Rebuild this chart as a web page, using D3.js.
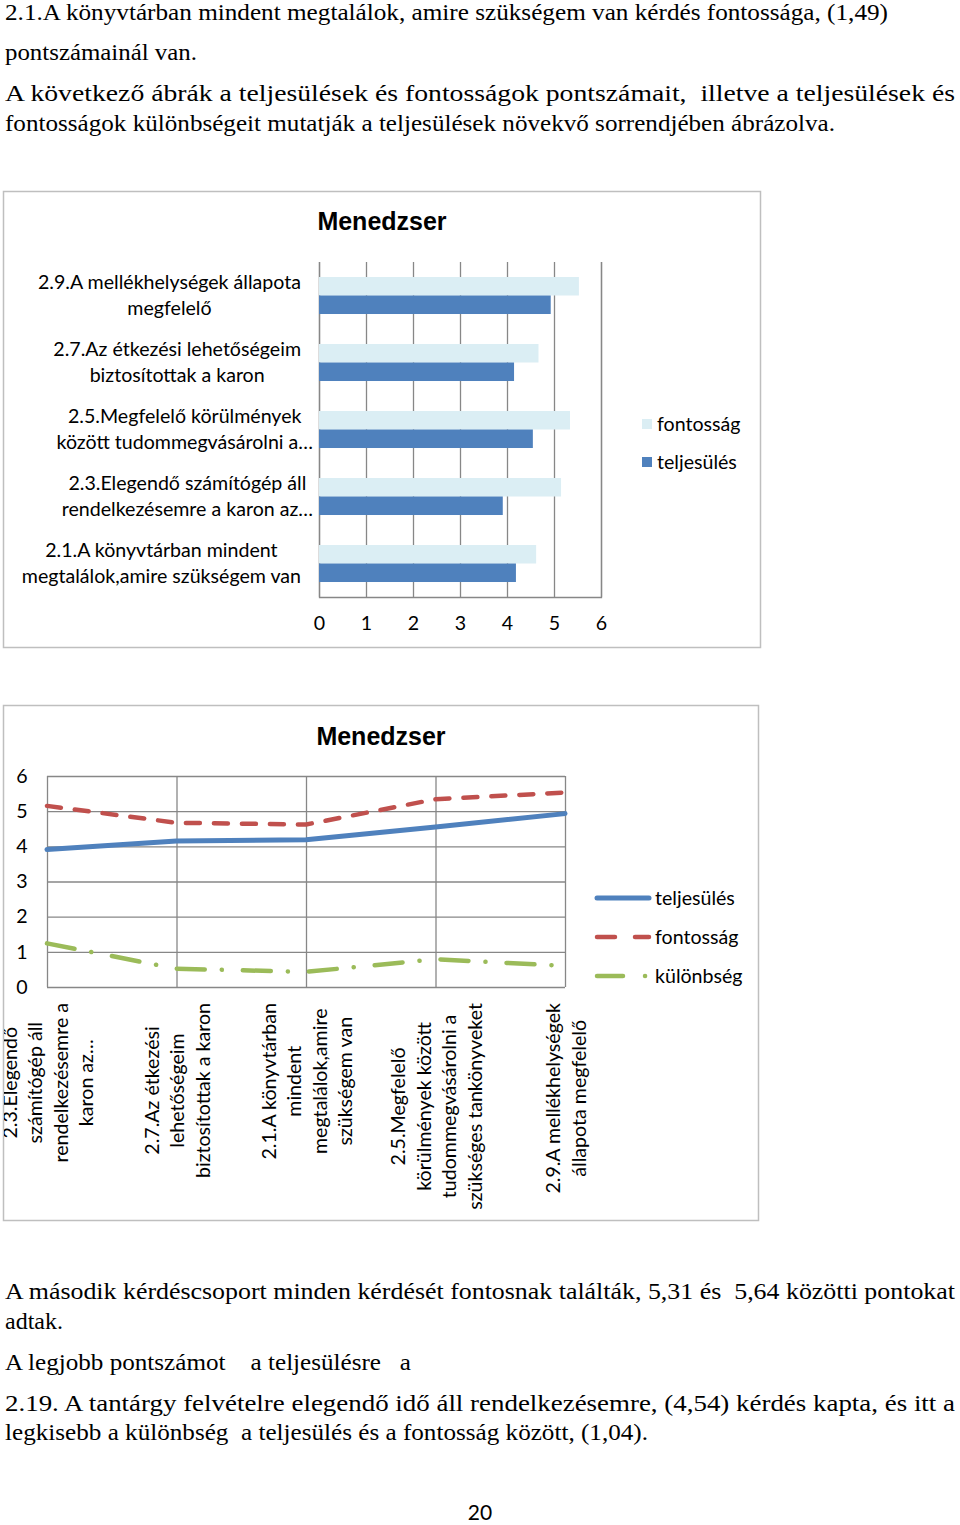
<!DOCTYPE html>
<html>
<head>
<meta charset="utf-8">
<script src="https://cdn.jsdelivr.net/npm/d3@7"></script>
<style>
  body { margin: 0; background: #fff; }
  svg { display: block; }
  .serif { font-family: "Liberation Serif", "Times New Roman", serif; font-size: 23px; fill: #000; }
  .cal { font-family: Lato, "Open Sans", sans-serif; font-size: 19.6px; fill: #000; }
</style>
</head>
<body>
<div id="page"></div>
<script>
/* Data */
const lineIds = ["2.3", "2.7", "2.1", "2.5", "2.9"];          // teljesülés növekvő sorrend
const teljesules = [3.91, 4.15, 4.19, 4.55, 4.93];
const fontossag  = [5.15, 4.67, 4.62, 5.34, 5.53];
const kulonbseg  = [1.24, 0.52, 0.43, 0.79, 0.60];

const barIds = ["2.9", "2.7", "2.5", "2.3", "2.1"];           // top to bottom
const barLabels = {
  "2.9": ["2.9.A mellékhelységek állapota", "megfelelő"],
  "2.7": ["2.7.Az étkezési lehetőségeim", "biztosítottak a karon"],
  "2.5": ["2.5.Megfelelő körülmények", "között tudommegvásárolni a…"],
  "2.3": ["2.3.Elegendő számítógép áll", "rendelkezésemre a karon az…"],
  "2.1": ["2.1.A könyvtárban mindent", "megtalálok,amire szükségem van"]
};
const lineLabels = {
  "2.3": ["2.3.Elegendő", "számítógép áll", "rendelkezésemre a", "karon az…"],
  "2.7": ["2.7.Az étkezési", "lehetőségeim", "biztosítottak a karon"],
  "2.1": ["2.1.A könyvtárban", "mindent", "megtalálok,amire", "szükségem van"],
  "2.5": ["2.5.Megfelelő", "körülmények között", "tudommegvásárolni a", "szükséges tankönyveket"],
  "2.9": ["2.9.A mellékhelységek", "állapota megfelelő"]
};
const valueTicks = [0, 1, 2, 3, 4, 5, 6];

const topText = [
  "2.1.A könyvtárban mindent megtalálok, amire szükségem van kérdés fontossága, (1,49)",
  "pontszámainál van.",
  "A következő ábrák a teljesülések és fontosságok pontszámait,  illetve a teljesülések és",
  "fontosságok különbségeit mutatják a teljesülések növekvő sorrendjében ábrázolva."
];
const bottomText = [
  "A második kérdéscsoport minden kérdését fontosnak találták, 5,31 és  5,64 közötti pontokat",
  "adtak.",
  "A legjobb pontszámot    a teljesülésre   a",
  "2.19. A tantárgy felvételre elegendő idő áll rendelkezésemre, (4,54) kérdés kapta, és itt a",
  "legkisebb a különbség  a teljesülés és a fontosság között, (1,04)."
];

const blue = "#4F81BD", light = "#DBEEF4", red = "#C0504D", green = "#9BBB59";
const gridColor = "#878787", frameColor = "#BFBFBF";

const byId = id => lineIds.indexOf(id);

const svg = d3.select("#page").append("svg")
    .attr("width", 960).attr("height", 1525);

/* Running text */
function paragraph(lines, baselines, widths) {
  lines.forEach((t, i) => {
    svg.append("text").attr("class", "serif")
      .attr("x", 5).attr("y", baselines[i])
      .style("white-space", "pre")
      .attr("textLength", widths[i]).attr("lengthAdjust", "spacingAndGlyphs")
      .text(t);
  });
}
paragraph(topText, [20, 60, 101, 131], [883, 192, 950, 830]);
paragraph(bottomText, [1299, 1329, 1370, 1411, 1440], [950, 58, 406, 950, 643]);

svg.append("text").attr("class", "cal")
  .attr("x", 480).attr("y", 1520).attr("text-anchor", "middle")
  .style("font-size", "21px").text("20");

/* ---------- Bar chart ---------- */
const bar = svg.append("g");
bar.append("rect").attr("x", 3.5).attr("y", 191.5).attr("width", 757).attr("height", 456)
  .attr("fill", "#fff").attr("stroke", frameColor).attr("stroke-width", 1.5);

bar.append("text")
  .attr("x", 382).attr("y", 230).attr("text-anchor", "middle")
  .style("font-family", "'Liberation Sans', Arial, sans-serif")
  .style("font-weight", "bold").style("font-size", "25px")
  .text("Menedzser");

const xBar = d3.scaleLinear().domain([0, 6]).range([319, 601]);
const yBar = d3.scaleBand().domain(barIds).range([262, 597]);
const ySub = d3.scaleBand().domain(["fontossag", "teljesules"])
  .range([0, yBar.bandwidth()]).paddingOuter(0.81);

/* gridlines */
bar.append("g")
  .attr("transform", "translate(0,597)")
  .call(d3.axisBottom(xBar).tickValues(valueTicks).tickSize(-(597 - 262)).tickFormat(""))
  .call(g => g.select(".domain").attr("stroke", gridColor).attr("stroke-width", 1.3))
  .selectAll("line").attr("stroke", gridColor).attr("stroke-width", 1.3);

/* tick labels */
bar.append("g")
  .attr("transform", "translate(0,597)")
  .call(d3.axisBottom(xBar).tickValues(valueTicks).tickFormat(d3.format("d")).tickSize(0).tickPadding(19))
  .call(g => g.select(".domain").remove())
  .selectAll("text").attr("class", "cal").attr("fill", "#000")
  .style("font-size", "19.6px");

const bars = bar.append("g");
barIds.forEach(id => {
  const i = byId(id);
  bars.append("rect")
    .attr("x", xBar(0)).attr("y", yBar(id) + ySub("fontossag"))
    .attr("width", xBar(fontossag[i]) - xBar(0)).attr("height", ySub.bandwidth())
    .attr("fill", light);
  bars.append("rect")
    .attr("x", xBar(0)).attr("y", yBar(id) + ySub("teljesules"))
    .attr("width", xBar(teljesules[i]) - xBar(0)).attr("height", ySub.bandwidth())
    .attr("fill", blue);
});

/* category labels */
barIds.forEach(id => {
  const lines = barLabels[id];
  const g = bar.append("g");
  const cy = yBar(id) + yBar.bandwidth() / 2;
  const texts = lines.map((t, k) => g.append("text").attr("class", "cal")
    .attr("y", cy + (k - (lines.length - 1) / 2) * 26)
    .attr("dy", "0.35em").attr("text-anchor", "middle").text(t));
  const maxW = d3.max(texts, t => t.node().getComputedTextLength());
  const right = lines.some(l => l.endsWith("…")) ? 313 : 301;
  texts.forEach(t => t.attr("x", right - maxW / 2));
});

/* legend */
const barLegend = [["fontosság", light], ["teljesülés", blue]];
barLegend.forEach(([name, c], k) => {
  bar.append("rect").attr("x", 642).attr("y", 419 + k * 38).attr("width", 10).attr("height", 10).attr("fill", c);
  bar.append("text").attr("class", "cal").attr("x", 657).attr("y", 424 + k * 38)
    .attr("dy", "0.35em").text(name);
});

/* ---------- Line chart ---------- */
const lc = svg.append("g");
svg.append("clipPath").attr("id", "frameClip")
  .append("rect").attr("x", 4).attr("y", 706).attr("width", 755).attr("height", 514);
lc.append("rect").attr("x", 3.5).attr("y", 705.5).attr("width", 755).attr("height", 515)
  .attr("fill", "#fff").attr("stroke", frameColor).attr("stroke-width", 1.5);

lc.append("text")
  .attr("x", 381).attr("y", 745).attr("text-anchor", "middle")
  .style("font-family", "'Liberation Sans', Arial, sans-serif")
  .style("font-weight", "bold").style("font-size", "25px")
  .text("Menedzser");

const xLine = d3.scalePoint().domain(lineIds).range([47, 565]);
const yLine = d3.scaleLinear().domain([0, 6]).range([987, 776]);

lc.append("g")
  .attr("transform", "translate(47,0)")
  .call(d3.axisLeft(yLine).tickValues(valueTicks).tickSize(-(565 - 47)).tickFormat(""))
  .call(g => g.select(".domain").remove())
  .selectAll("line").attr("stroke", gridColor).attr("stroke-width", 1.3);
lc.append("g")
  .attr("transform", "translate(0,987)")
  .call(d3.axisBottom(xLine).tickSize(-(987 - 776)).tickFormat(""))
  .call(g => g.select(".domain").remove())
  .selectAll("line").attr("stroke", gridColor).attr("stroke-width", 1.3);

lc.append("g")
  .attr("transform", "translate(47,0)")
  .call(d3.axisLeft(yLine).tickValues(valueTicks).tickFormat(d3.format("d")).tickSize(0).tickPadding(25))
  .call(g => g.select(".domain").remove())
  .selectAll("text").attr("class", "cal").attr("fill", "#000")
  .attr("text-anchor", "middle").style("font-size", "19.6px");

const series = [
  { name: "teljesülés", values: teljesules, color: blue, width: 5, dash: null, legendDash: null },
  { name: "fontosság", values: fontossag, color: red, width: 4.5, dash: "14,14", legendDash: "18,20" },
  { name: "különbség", values: kulonbseg, color: green, width: 4.5, dash: "28,17,0.1,21", legendDash: "26,22,0.1,40" }
];
const line = d3.line().x((d, i) => xLine(lineIds[i])).y(d => yLine(d));

series.slice().reverse().forEach(s => {
  lc.append("path").datum(s.values)
    .attr("d", line)
    .attr("fill", "none").attr("stroke", s.color).attr("stroke-width", s.width)
    .attr("stroke-linecap", "round").attr("stroke-linejoin", "round")
    .attr("stroke-dasharray", s.dash);
});

/* rotated category labels (the first one is cut by the frame, as in the original) */
const rotG = lc.append("g").attr("clip-path", "url(#frameClip)");
lineIds.forEach(id => {
  const lines = lineLabels[id];
  const g = rotG.append("g")
    .attr("transform", `translate(${xLine(id) + 1},1003) rotate(-90)`);
  const texts = lines.map((t, k) => g.append("text").attr("class", "cal")
    .attr("y", (k - (lines.length - 1) / 2) * 25.5)
    .attr("dy", "0.35em").attr("text-anchor", "middle").text(t));
  const maxW = d3.max(texts, t => t.node().getComputedTextLength());
  texts.forEach(t => t.attr("x", -maxW / 2));
});

/* legend */
series.forEach((s, k) => {
  const y = 898 + k * 39;
  lc.append("line").attr("x1", 597).attr("x2", 649).attr("y1", y).attr("y2", y)
    .attr("stroke", s.color).attr("stroke-width", s.width)
    .attr("stroke-linecap", "round")
    .attr("stroke-dasharray", s.legendDash);
  lc.append("text").attr("class", "cal").attr("x", 655).attr("y", y)
    .attr("dy", "0.35em").text(s.name);
});
</script>
</body>
</html>
